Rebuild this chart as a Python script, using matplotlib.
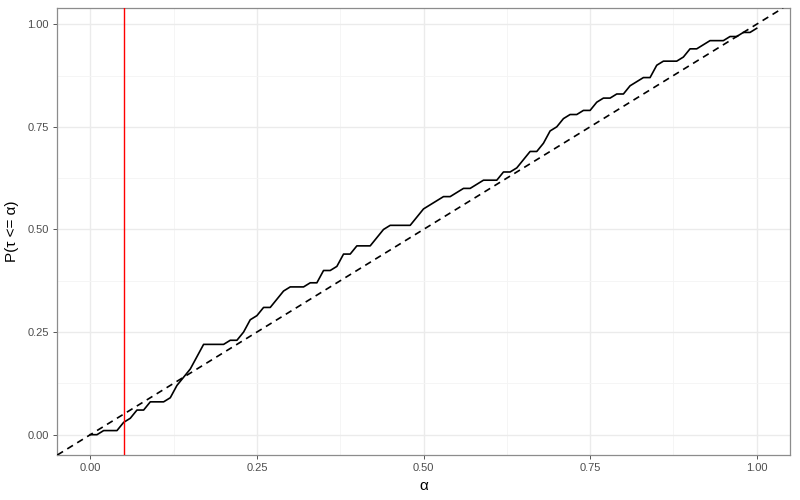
import matplotlib
matplotlib.use("Agg")
import matplotlib.pyplot as plt
import numpy as np

alpha = np.round(np.arange(0, 101) * 0.01, 2)
p_tau = [
    0.00, 0.00, 0.01, 0.01, 0.01, 0.03, 0.04, 0.06, 0.06, 0.08,
    0.08, 0.08, 0.09, 0.12, 0.14, 0.16, 0.19, 0.22, 0.22, 0.22,
    0.22, 0.23, 0.23, 0.25, 0.28, 0.29, 0.31, 0.31, 0.33, 0.35,
    0.36, 0.36, 0.36, 0.37, 0.37, 0.40, 0.40, 0.41, 0.44, 0.44,
    0.46, 0.46, 0.46, 0.48, 0.50, 0.51, 0.51, 0.51, 0.51, 0.53,
    0.55, 0.56, 0.57, 0.58, 0.58, 0.59, 0.60, 0.60, 0.61, 0.62,
    0.62, 0.62, 0.64, 0.64, 0.65, 0.67, 0.69, 0.69, 0.71, 0.74,
    0.75, 0.77, 0.78, 0.78, 0.79, 0.79, 0.81, 0.82, 0.82, 0.83,
    0.83, 0.85, 0.86, 0.87, 0.87, 0.90, 0.91, 0.91, 0.91, 0.92,
    0.94, 0.94, 0.95, 0.96, 0.96, 0.96, 0.97, 0.97, 0.98, 0.98,
    0.99,
]
alpha_level = 0.05
ticks = [0.0, 0.25, 0.5, 0.75, 1.0]
tick_labels = ["0.00", "0.25", "0.50", "0.75", "1.00"]

plt.rcParams["font.family"] = ["Liberation Sans", "DejaVu Sans"]

fig = plt.figure(figsize=(8, 5), dpi=100)
ax = fig.add_axes([0.07125, 0.09, 0.91625, 0.894])

# ggplot theme_bw look
ax.set_facecolor("white")
for s in ax.spines.values():
    s.set_color("#8C8C8C")
    s.set_linewidth(0.9)
ax.set_xticks(ticks)
ax.set_yticks(ticks)
ax.set_xticklabels(tick_labels)
ax.set_yticklabels(tick_labels)
ax.set_xticks([0.125, 0.375, 0.625, 0.875], minor=True)
ax.set_yticks([0.125, 0.375, 0.625, 0.875], minor=True)
ax.grid(which="major", color="#EBEBEB", linewidth=1.0)
ax.grid(which="minor", color="#F4F4F4", linewidth=0.6)
ax.set_axisbelow(True)
ax.tick_params(which="major", length=3, width=0.7, color="#555555",
               labelsize=8, labelcolor="#4D4D4D", pad=3)
ax.tick_params(which="minor", length=0)

ax.set_xlim(-0.05, 1.05)
ax.set_ylim(-0.0495, 1.0395)

ax.plot(alpha, p_tau, color="black", linewidth=1.2, zorder=3)
ax.axline((0, 0), slope=1, color="black", linestyle=(0, (4, 3)),
          linewidth=1.2, zorder=3)
ax.axvline(alpha_level, color="#FF0000", linewidth=1.0, zorder=4)

ax.set_xlabel("α", fontsize=11, labelpad=4)
ax.set_ylabel("P(τ <= α)", fontsize=11, labelpad=6)

fig.savefig("out.png", dpi=100)
